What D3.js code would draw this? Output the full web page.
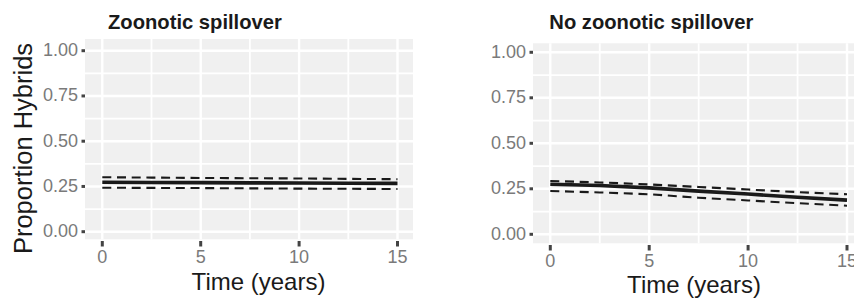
<!DOCTYPE html>
<html>
<head>
<meta charset="utf-8">
<script src="https://cdn.jsdelivr.net/npm/d3@7"></script>
<style>
  body { margin: 0; background: #fff; }
  text { font-family: "Liberation Sans", Arial, sans-serif; }
</style>
</head>
<body>
<div id="chart"></div>
<script>
// values
const years = [0, 2.5, 5, 7.5, 10, 12.5, 15];

const spillFit   = [0.273, 0.272, 0.271, 0.270, 0.269, 0.268, 0.267];
const spillUpper = [0.301, 0.299, 0.297, 0.2955, 0.294, 0.292, 0.290];
const spillLower = [0.243, 0.242, 0.241, 0.2395, 0.238, 0.237, 0.236];

const noSpillFit   = [0.275, 0.268, 0.255, 0.237, 0.221, 0.204, 0.188];
const noSpillUpper = [0.293, 0.285, 0.274, 0.260, 0.246, 0.232, 0.220];
const noSpillLower = [0.238, 0.230, 0.220, 0.201, 0.186, 0.171, 0.157];

const xTicks = [0, 5, 10, 15];
const xMinor = [2.5, 7.5, 12.5];
const yTicks = [0, 0.25, 0.5, 0.75, 1];
const yMinor = [0.125, 0.375, 0.625, 0.875];

const titles = ['Zoonotic spillover', 'No zoonotic spillover'];

const panels = [
    { title: titles[0], fit: spillFit, upper: spillUpper, lower: spillLower,
      box: { left: 85, right: 413, top: 39, bottom: 239.3 },
      xr: [102.3, 397.5], yr: [231.7, 50.7],
      titleX: 108, xTitleX: 258.5, xTitleY: 290 },
    { title: titles[1], fit: noSpillFit, upper: noSpillUpper, lower: noSpillLower,
      box: { left: 533, right: 862, top: 43.3, bottom: 243.3 },
      xr: [550.3, 847], yr: [234.3, 52.3],
      titleX: 549.3, xTitleX: 694, xTitleY: 293 }
];

const svg = d3.select('#chart')
    .append('svg')
    .attr('width', 854)
    .attr('height', 300);

const drawPanel = p => {
    const g = svg.append('g');
    const b = p.box;

    const x = d3.scaleLinear().domain([0, 15]).range(p.xr);
    const y = d3.scaleLinear().domain([0, 1]).range(p.yr);

    g.append('rect')
        .attr('x', b.left)
        .attr('y', b.top)
        .attr('width', b.right - b.left)
        .attr('height', b.bottom - b.top)
        .attr('fill', '#f0f0f0');

    // grid
    const grid = (vals, w) => {
        g.append('g').selectAll('line')
            .data(vals)
            .join('line')
            .attr('x1', d => x(d)).attr('x2', d => x(d))
            .attr('y1', b.top).attr('y2', b.bottom)
            .attr('stroke', '#fff').attr('stroke-width', w);
    };
    const gridY = (vals, w) => {
        g.append('g').selectAll('line')
            .data(vals)
            .join('line')
            .attr('y1', d => y(d)).attr('y2', d => y(d))
            .attr('x1', b.left).attr('x2', b.right)
            .attr('stroke', '#fff').attr('stroke-width', w);
    };
    grid(xMinor, 1.8);
    gridY(yMinor, 1.8);
    grid(xTicks, 2.4);
    gridY(yTicks, 2.4);

    // lines
    const line = vals => d3.line()
        .x((d, i) => x(years[i]))
        .y(d => y(d))(vals);

    [p.upper, p.lower].forEach(vals => {
        g.append('path')
            .attr('d', line(vals))
            .attr('fill', 'none')
            .attr('stroke', '#1a1a1a')
            .attr('stroke-width', 2.1)
            .attr('stroke-dasharray', '9,5.7');
    });

    g.append('path')
        .attr('d', line(p.fit))
        .attr('fill', 'none')
        .attr('stroke', '#1a1a1a')
        .attr('stroke-width', 3.6);

    // y axis
    g.append('g').selectAll('line')
        .data(yTicks)
        .join('line')
        .attr('x1', b.left - 3.5).attr('x2', b.left)
        .attr('y1', d => y(d)).attr('y2', d => y(d))
        .attr('stroke', '#444').attr('stroke-width', 3);

    g.append('g').selectAll('text')
        .data(yTicks)
        .join('text')
        .attr('x', b.left - 7)
        .attr('y', d => y(d))
        .attr('dy', '0.3em')
        .attr('text-anchor', 'end')
        .attr('font-size', '18px')
        .attr('fill', '#7a7a7a')
        .text(d3.format('.2f'));

    // x axis
    g.append('g').selectAll('line')
        .data(xTicks)
        .join('line')
        .attr('x1', d => x(d)).attr('x2', d => x(d))
        .attr('y1', b.bottom + 1.7).attr('y2', b.bottom + 7.2)
        .attr('stroke', '#444').attr('stroke-width', 3);

    g.append('g').selectAll('text')
        .data(xTicks)
        .join('text')
        .attr('x', d => x(d))
        .attr('y', b.bottom + 23.5)
        .attr('text-anchor', 'middle')
        .attr('font-size', '18px')
        .attr('fill', '#7a7a7a')
        .text(d => d);

    g.append('text')
        .attr('x', p.xTitleX)
        .attr('y', p.xTitleY)
        .attr('text-anchor', 'middle')
        .attr('font-size', '24px')
        .attr('fill', '#1a1a1a')
        .text('Time (years)');

    g.append('text')
        .attr('x', p.titleX)
        .attr('y', 29)
        .attr('font-size', '20.2px')
        .attr('font-weight', 'bold')
        .attr('fill', '#1a1a1a')
        .text(p.title);
};

panels.forEach(drawPanel);

svg.append('text')
    .attr('transform', 'translate(31.5,148.5) rotate(-90)')
    .attr('text-anchor', 'middle')
    .attr('font-size', '25.5px')
    .attr('fill', '#1a1a1a')
    .text('Proportion Hybrids');
</script>
</body>
</html>
